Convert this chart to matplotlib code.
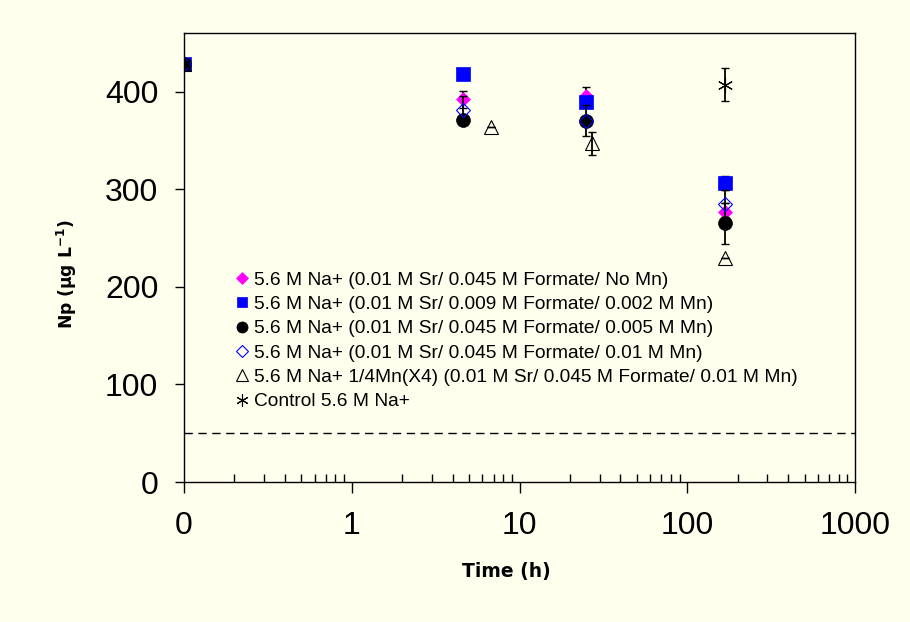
import matplotlib
matplotlib.use("Agg")
import matplotlib.pyplot as plt
from matplotlib.ticker import FixedLocator, FixedFormatter, LogLocator, NullFormatter

plt.rcParams['font.family'] = ['Liberation Sans', 'DejaVu Sans']
plt.rcParams['mathtext.fontset'] = 'custom'
plt.rcParams['mathtext.rm'] = 'DejaVu Sans:bold'
plt.rcParams['mathtext.default'] = 'rm'

BG = '#FFFFEE'

# ---- data ----
time_main = [0.1, 4.6, 25, 168]          # 0.1 stands for t = 0 on the log axis
time_tri = [0.1, 6.8, 27, 168]
time_ctrl = [0.1, 168]

np_nomn = [428, 392, 395, 277]
err_nomn = [0, 9, 10, 9]
np_mn002 = [428, 418, 389, 306]
err_mn002 = [0, 0, 5, 7]
np_mn005 = [428, 371, 370, 265]
err_mn005 = [0, 3, 16, 21]
np_mn01 = [428, 381, 370, 285]
err_mn01 = [0, 14, 0, 14]
np_quarter = [428, 364, 347, 229]
err_quarter = [0, 0, 12, 0]
np_ctrl = [428, 407]
err_ctrl = [0, 17]

labels = [
    "5.6 M Na+ (0.01 M Sr/ 0.045 M Formate/ No Mn)",
    "5.6 M Na+ (0.01 M Sr/ 0.009 M Formate/ 0.002 M Mn)",
    "5.6 M Na+ (0.01 M Sr/ 0.045 M Formate/ 0.005 M Mn)",
    "5.6 M Na+ (0.01 M Sr/ 0.045 M Formate/ 0.01 M Mn)",
    "5.6 M Na+ 1/4Mn(X4) (0.01 M Sr/ 0.045 M Formate/ 0.01 M Mn)",
    "Control 5.6 M Na+",
]

detection_limit = 50
xtick_vals = [0.1, 1, 10, 100, 1000]
xtick_labels = ["0", "1", "10", "100", "1000"]
ytick_vals = [0, 100, 200, 300, 400]

fig = plt.figure(figsize=(9.1, 6.22), dpi=100, facecolor=BG)
ax = fig.add_axes([184/910, 1-482/622, (855-184)/910, (482-33)/622])
ax.set_facecolor(BG)

series = [
    (time_main, np_nomn, err_nomn, dict(marker='D', ms=7.6, mfc='#FF00FF', mec='#FF00FF', mew=0.5)),
    (time_main, np_mn002, err_mn002, dict(marker='s', ms=9.4, mfc='#0000FF', mec='#0000FF', mew=0.5)),
    (time_main, np_mn005, err_mn005, dict(marker='o', ms=10, mfc='black', mec='black', mew=0.5)),
    (time_main, np_mn01, err_mn01, dict(marker='D', ms=7.6, mfc='none', mec='#0000FF', mew=0.8)),
    (time_tri, np_quarter, err_quarter, dict(marker='^', ms=10.5, mfc='none', mec='black', mew=0.8)),
    (time_ctrl, np_ctrl, err_ctrl, dict(marker=(6, 2, 0), ms=11, mfc='black', mec='black', mew=0.8)),
]

handles = []
z = 3
for (t, v, e, st), lab in zip(series, labels):
    ax.errorbar(t, v, yerr=e, fmt='none', ecolor='black', elinewidth=1.3,
                capsize=3, capthick=1, zorder=z)
    h, = ax.plot(t, v, linestyle='none', label=lab, zorder=z + 0.5, **st)
    handles.append(h)
    z += 1

ax.axhline(detection_limit, color='black', lw=1, ls=(0, (6, 4)), zorder=2)

ax.set_xscale('log')
ax.set_xlim(0.1, 1000)
ax.set_ylim(0, 460)

ax.xaxis.set_major_locator(FixedLocator(xtick_vals))
ax.xaxis.set_major_formatter(FixedFormatter(xtick_labels))
ax.xaxis.set_minor_locator(LogLocator(base=10, subs=[2, 3, 4, 5, 6, 7, 8, 9], numticks=20))
ax.xaxis.set_minor_formatter(NullFormatter())
ax.set_yticks(ytick_vals)

ax.tick_params(axis='x', which='major', direction='out', length=8, width=1,
               labelsize=23, pad=13, top=False)
ax.tick_params(axis='x', which='minor', direction='in', length=6, width=1, top=False)
ax.tick_params(axis='y', which='major', direction='out', length=6.5, width=1,
               labelsize=23, pad=12, right=False)

for s in ax.spines.values():
    s.set_linewidth(1.0)
    s.set_color('black')

ax.set_xlabel("Time (h)", fontsize=13.5, fontweight='bold', family='DejaVu Sans')
ax.xaxis.set_label_coords(0.481, -0.178)
ax.set_ylabel("Np (μg L$^{-1}$)", fontsize=12.3, fontweight='bold', family='DejaVu Sans')
ax.yaxis.set_label_coords(-0.156, 0.463)

leg = ax.legend(handles=handles, loc='upper left', bbox_to_anchor=(0.0766, 0.469),
                frameon=False, fontsize=13.8, handlelength=0.7, handletextpad=0.25,
                labelspacing=0.36, markerscale=0.8, borderaxespad=0, borderpad=0)

fig.savefig("out.png", dpi=100, facecolor=BG)
